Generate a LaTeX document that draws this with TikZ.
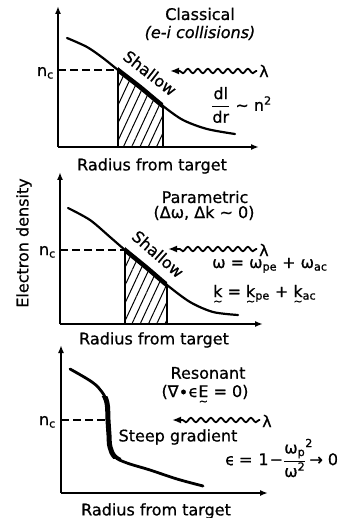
\documentclass[tikz,border=0pt]{standalone}
\usepackage{fontspec}
\setmainfont{DejaVu Sans}[FakeBold=0.7]
\usetikzlibrary{decorations.pathmorphing,arrows.meta,patterns.meta}
\newcommand\utl[1]{\ooalign{#1\cr\hidewidth\raisebox{-0.5em}{\fontsize{11}{11}\selectfont ∼}\hidewidth\cr}}
\tikzset{
  axisline/.style={line width=1.6pt, -{Latex[length=8pt,width=6pt]}},
  curveline/.style={line width=2.2pt, line cap=round, line join=round},
  boldseg/.style={line width=4.6pt, line cap=butt, line join=round},
  edgeline/.style={line width=1.3pt},
  ncline/.style={line width=1.3pt, dash pattern=on 8pt off 4pt},
  wave/.style={line width=1.8pt, -{Latex[length=9pt,width=7pt]}, decorate,
    decoration={snake, amplitude=2.2pt, segment length=10pt, post length=9pt, pre length=1pt}},
  lbl/.style={inner sep=0pt, font=\fontsize{16}{19}\selectfont},
  hatch/.style={pattern={Lines[angle=65,distance=7.5pt,line width=1pt]}},
}
\begin{document}
\begin{tikzpicture}[x=1pt,y=-1pt]
\useasboundingbox (0,0) rectangle (348,518);

% ---------------- Panel 1: Classical ----------------
\coordinate (o1) at (58,147);
\coordinate (t1) at (58,6);
\coordinate (e1) at (259,147);
\coordinate (a1) at (118,70);
\coordinate (b1) at (163,106);
\begin{scope}
  \clip (118,0) rectangle (163,160);
  \path[hatch] plot[smooth] coordinates {(67,38) (87,47) (103,58) (118,70) (140,87) (163,106) (183,120) (207,129) (235,134)} -- (235,147) -- (67,147) -- cycle;
  \draw[boldseg] plot[smooth] coordinates {(67,38) (87,47) (103,58) (118,70) (140,87) (163,106) (183,120) (207,129) (235,134)};
\end{scope}
\draw[curveline] plot[smooth] coordinates {(67,38) (87,47) (103,58) (118,70) (140,87) (163,106) (183,120) (207,129) (235,134)};
\draw[edgeline] (a1) -- (a1 |- o1);
\draw[edgeline] (b1) -- (b1 |- o1);
\draw[ncline] (o1 |- a1) -- (a1);
\draw[axisline] (o1) -- (t1);
\draw[axisline] (o1) -- (e1);
\node[lbl, anchor=base east] (n1) at (54,76) {n\textsubscript{c}};
\node[lbl] (cl) at (200,14) {Classical};
\node[lbl] (ei) at (200,33) {\itshape (e-i collisions)};
\node[lbl, rotate=-38] (sh1) at (150,73) {Shallow};
\coordinate (w1r) at (257,71);
\coordinate (w1l) at (170,71);
\draw[wave] (w1r) -- (w1l);
\node[lbl, anchor=west] (lam1) at (259,71) {λ};
\node[lbl, anchor=west] (f1) at (211,105) {$\displaystyle\frac{\mbox{dl}}{\mbox{dr}}$ ∼ n\textsuperscript{2}};
\node[lbl] (r1) at (152,166) {Radius from target};

% ---------------- Panel 2: Parametric ----------------
\coordinate (o2) at (60,324);
\coordinate (t2) at (60,172);
\coordinate (e2) at (263,324);
\coordinate (a2) at (125,250);
\coordinate (b2) at (167,285);
\begin{scope}
  \clip (125,180) rectangle (167,330);
  \path[hatch] plot[smooth] coordinates {(68,208) (90,220) (110,237) (125,250) (147,268) (167,285) (190,302) (213,312) (238,315)} -- (238,324) -- (68,324) -- cycle;
  \draw[boldseg] plot[smooth] coordinates {(68,208) (90,220) (110,237) (125,250) (147,268) (167,285) (190,302) (213,312) (238,315)};
\end{scope}
\draw[curveline] plot[smooth] coordinates {(68,208) (90,220) (110,237) (125,250) (147,268) (167,285) (190,302) (213,312) (238,315)};
\draw[edgeline] (a2) -- (a2 |- o2);
\draw[edgeline] (b2) -- (b2 |- o2);
\draw[ncline] (o2 |- a2) -- (a2);
\draw[axisline] (o2) -- (t2);
\draw[axisline] (o2) -- (e2);
\node[lbl, anchor=base east] (n2) at (56,255) {n\textsubscript{c}};
\node[lbl] (pa) at (205,197) {Parametric};
\node[lbl] (pc) at (204,213) {(Δω, Δk ∼ 0)};
\node[lbl, rotate=-41] (sh2) at (158,254) {Shallow};
\coordinate (w2r) at (257,249);
\coordinate (w2l) at (168,249);
\draw[wave] (w2r) -- (w2l);
\node[lbl, anchor=west] (lam2) at (259,250) {λ};
\node[lbl, anchor=base west] (eqw) at (212,268) {ω = ω\textsubscript{pe} + ω\textsubscript{ac}};
\node[lbl, anchor=base west] (eqk) at (213,297) {\utl{k} = \utl{k}\textsubscript{pe} + \utl{k}\textsubscript{ac}};
\node[lbl] (r2) at (154,340) {Radius from target};
\node[lbl, rotate=90] (ed) at (24,243) {Electron density};

% ---------------- Panel 3: Resonant ----------------
\coordinate (o3) at (61,493);
\coordinate (t3) at (61,345);
\coordinate (e3) at (268,493);
\coordinate (a3) at (108,420);
\begin{scope}
  \clip (95,396) rectangle (121,458);
  \draw[boldseg, line width=5pt] plot[smooth, tension=0.6] coordinates {(70,369) (92,382) (102,392) (107,403) (108,420) (109,435) (110,447) (115,457) (127,463) (150,470) (177,479) (203,486)};
\end{scope}
\draw[curveline, line width=2.8pt] plot[smooth, tension=0.6] coordinates {(70,369) (92,382) (102,392) (107,403) (108,420) (109,435) (110,447) (115,457) (127,463) (150,470) (177,479) (203,486)};
\draw[ncline] (o3 |- a3) -- (a3);
\draw[axisline] (o3) -- (t3);
\draw[axisline] (o3) -- (e3);
\node[lbl, anchor=base east] (n3) at (56,425) {n\textsubscript{c}};
\node[lbl] (re) at (208,373) {Resonant};
\node[lbl, anchor=base] (rc) at (205,397) {(∇∙ϵ\utl{E} = 0)};
\coordinate (w3r) at (260,420);
\coordinate (w3l) at (172,420);
\draw[wave] (w3r) -- (w3l);
\node[lbl, anchor=west] (lam3) at (262,421) {λ};
\node[lbl] (sg) at (178,437) {Steep gradient};
\node[lbl, anchor=west] (eqe) at (225,458) {ϵ\hspace{4pt}=\hspace{6pt}1\hspace{1pt}−$\displaystyle\frac{\mbox{ω\textsubscript{p}\rlap{\textsuperscript{2}}}}{\mbox{ω\textsuperscript{2}}}$\hspace{3pt}→\hspace{5pt}0};
\node[lbl] (r3) at (156,511) {Radius from target};
\end{tikzpicture}
\end{document}
